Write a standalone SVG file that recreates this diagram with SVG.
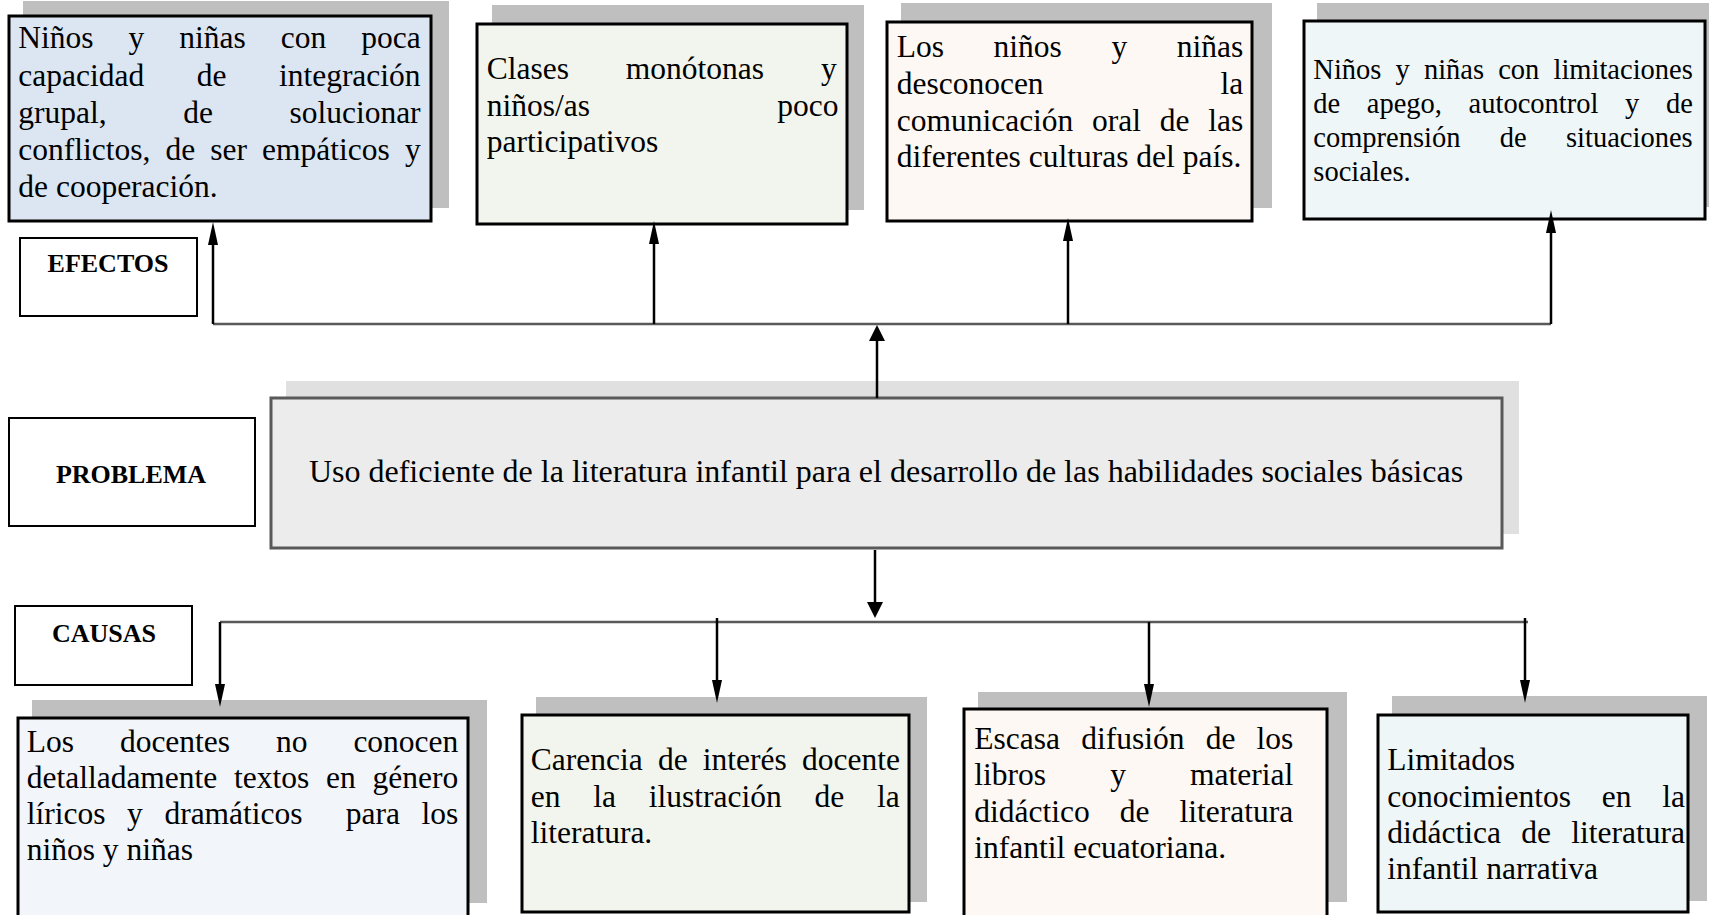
<svg xmlns="http://www.w3.org/2000/svg" width="1709" height="915" viewBox="0 0 1709 915">
<defs>
<style>
.t{font-family:"Liberation Serif","Times New Roman",serif;font-size:31.5px;fill:#000}
.t4{font-family:"Liberation Serif","Times New Roman",serif;font-size:28.5px;fill:#000}
.tp{font-family:"Liberation Serif","Times New Roman",serif;font-size:32px;fill:#000}
.lb{font-family:"Liberation Serif","Times New Roman",serif;font-size:26px;font-weight:bold;fill:#000;text-anchor:middle}
.box{stroke:#000;stroke-width:3}
.sh{fill:#bfbfbf}
.lab{fill:#fff;stroke:#000;stroke-width:2}
.hl{stroke:#595959;stroke-width:2.5;fill:none}
.sh2{stroke:#000;stroke-width:2.5;fill:none}
</style>
<marker id="an" markerUnits="userSpaceOnUse" markerWidth="23" markerHeight="10" refX="13" refY="5" orient="auto"><path d="M0,0 L23,5 L0,10 z" fill="#000"/></marker>
<marker id="aw" markerUnits="userSpaceOnUse" markerWidth="16" markerHeight="16" refX="8" refY="8" orient="auto"><path d="M0,0 L16,8 L0,16 z" fill="#000"/></marker>
</defs>
<rect width="1709" height="915" fill="#fff"/>

<g id="efecto1">
<rect class="sh" x="23" y="1" width="426" height="207"/>
<rect class="box" x="9" y="16" width="422" height="205" fill="#dce6f2"/>
<text class="t" y="48"><tspan x="18.3">Niños</tspan> <tspan x="128.6">y</tspan> <tspan x="179.3">niñas</tspan> <tspan x="280.8">con</tspan> <tspan x="361.3">poca</tspan></text>
<text class="t" y="85.5"><tspan x="18.3">capacidad</tspan> <tspan x="196.7">de</tspan> <tspan x="278.9">integración</tspan></text>
<text class="t" y="122.5"><tspan x="18.3">grupal,</tspan> <tspan x="183.2">de</tspan> <tspan x="289.4">solucionar</tspan></text>
<text class="t" y="159.5"><tspan x="18.3">conflictos,</tspan> <tspan x="165.5">de</tspan> <tspan x="210.3">ser</tspan> <tspan x="262.1">empáticos</tspan> <tspan x="404.9">y</tspan></text>
<text class="t" x="18.3" y="196.5">de cooperación.</text>
</g>

<g id="efecto2">
<rect class="sh" x="492" y="5" width="372" height="205"/>
<rect class="box" x="477" y="24" width="370" height="200" fill="#f2f5ee"/>
<text class="t" y="79"><tspan x="486.7">Clases</tspan> <tspan x="625.8">monótonas</tspan> <tspan x="821">y</tspan></text>
<text class="t" y="115.5"><tspan x="486.7">niños/as</tspan> <tspan x="777.2">poco</tspan></text>
<text class="t" x="486.7" y="152">participativos</text>
</g>

<g id="efecto3">
<rect class="sh" x="901" y="3" width="371" height="205"/>
<rect class="box" x="887" y="22" width="365" height="199" fill="#fdf8f4"/>
<text class="t" y="57.3"><tspan x="896.7">Los</tspan> <tspan x="993.5">niños</tspan> <tspan x="1111.4">y</tspan> <tspan x="1176.7">niñas</tspan></text>
<text class="t" y="94"><tspan x="896.7">desconocen</tspan> <tspan x="1220.6">la</tspan></text>
<text class="t" y="130.7"><tspan x="896.7">comunicación</tspan> <tspan x="1092.1">oral</tspan> <tspan x="1159.8">de</tspan> <tspan x="1208.2">las</tspan></text>
<text class="t" x="896.7" y="167.3">diferentes culturas del país.</text>
</g>

<g id="efecto4">
<rect class="sh" x="1317" y="3" width="392" height="204"/>
<rect class="box" x="1304" y="21" width="401" height="198" fill="#eef6f8"/>
<text class="t4" y="79"><tspan x="1313.3">Niños</tspan> <tspan x="1395.5">y</tspan> <tspan x="1423.9">niñas</tspan> <tspan x="1498.2">con</tspan> <tspan x="1553.5">limitaciones</tspan></text>
<text class="t4" y="113"><tspan x="1313.3">de</tspan> <tspan x="1366.8">apego,</tspan> <tspan x="1468.6">autocontrol</tspan> <tspan x="1625">y</tspan> <tspan x="1665.9">de</tspan></text>
<text class="t4" y="147"><tspan x="1313.3">comprensión</tspan> <tspan x="1499.8">de</tspan> <tspan x="1566">situaciones</tspan></text>
<text class="t4" x="1313.3" y="181">sociales.</text>
</g>

<g id="label-efectos">
<rect class="lab" x="20" y="238" width="177" height="78"/>
<text class="lb" x="108" y="272">EFECTOS</text>
</g>

<g id="label-problema">
<rect class="lab" x="9" y="418" width="246" height="108"/>
<text class="lb" x="131" y="483">PROBLEMA</text>
</g>

<g id="problema">
<rect x="286" y="381" width="1233" height="153" fill="#e0e0e0"/>
<rect x="271" y="398" width="1231" height="150" fill="#ececec" stroke="#595959" stroke-width="3"/>
<text class="tp" x="886" y="482" text-anchor="middle">Uso deficiente de la literatura infantil para el desarrollo de las habilidades sociales básicas</text>
</g>

<g id="label-causas">
<rect class="lab" x="15" y="606" width="177" height="79"/>
<text class="lb" x="104" y="642">CAUSAS</text>
</g>

<g id="causa1">
<rect class="sh" x="32" y="700" width="455" height="203"/>
<rect class="box" x="18" y="718" width="450" height="220" fill="#f2f5fa"/>
<text class="t" y="752"><tspan x="26.7">Los</tspan> <tspan x="119.9">docentes</tspan> <tspan x="276">no</tspan> <tspan x="353.4">conocen</tspan></text>
<text class="t" y="788"><tspan x="26.7">detalladamente</tspan> <tspan x="234.1">textos</tspan> <tspan x="326.1">en</tspan> <tspan x="372.5">género</tspan></text>
<text class="t" y="823.5"><tspan x="26.7">líricos</tspan> <tspan x="127">y</tspan> <tspan x="164.4">dramáticos</tspan> <tspan x="345.8">para</tspan> <tspan x="421.6">los</tspan></text>
<text class="t" x="26.7" y="859.5">niños y niñas</text>
</g>

<g id="causa2">
<rect class="sh" x="536" y="697" width="391" height="205"/>
<rect class="box" x="522" y="715" width="387" height="197" fill="#f2f5ee"/>
<text class="t" y="770"><tspan x="530.7">Carencia</tspan> <tspan x="657.9">de</tspan> <tspan x="702.8">interés</tspan> <tspan x="802">docente</tspan></text>
<text class="t" y="806.5"><tspan x="530.7">en</tspan> <tspan x="593.2">la</tspan> <tspan x="648.7">ilustración</tspan> <tspan x="814.5">de</tspan> <tspan x="877">la</tspan></text>
<text class="t" x="530.7" y="843">literatura.</text>
</g>

<g id="causa3">
<rect class="sh" x="978" y="692" width="369" height="210"/>
<rect class="box" x="964" y="709" width="363" height="220" fill="#fdf8f4"/>
<text class="t" y="748.5"><tspan x="974.3">Escasa</tspan> <tspan x="1081.2">difusión</tspan> <tspan x="1205.7">de</tspan> <tspan x="1256.6">los</tspan></text>
<text class="t" y="785"><tspan x="974.3">libros</tspan> <tspan x="1110.2">y</tspan> <tspan x="1190.1">material</tspan></text>
<text class="t" y="821.5"><tspan x="974.3">didáctico</tspan> <tspan x="1119.8">de</tspan> <tspan x="1179.5">literatura</tspan></text>
<text class="t" x="974.3" y="858">infantil ecuatoriana.</text>
</g>

<g id="causa4">
<rect class="sh" x="1392" y="696" width="315" height="205"/>
<rect class="box" x="1378" y="715" width="310" height="197" fill="#eef6f8"/>
<text class="t" x="1387.3" y="770">Limitados</text>
<text class="t" y="806.5"><tspan x="1387.3">conocimientos</tspan> <tspan x="1601.7">en</tspan> <tspan x="1662.3">la</tspan></text>
<text class="t" y="843"><tspan x="1387.3">didáctica</tspan> <tspan x="1521.3">de</tspan> <tspan x="1571.3">literatura</tspan></text>
<text class="t" x="1387.3" y="879">infantil narrativa</text>
</g>

<g id="connectors">
<line class="hl" x1="213" y1="324" x2="1551" y2="324"/>
<path class="sh2" d="M213,324 V232" marker-end="url(#an)"/>
<path class="sh2" d="M654,324 V231" marker-end="url(#an)"/>
<path class="sh2" d="M1068,324 V228" marker-end="url(#an)"/>
<path class="sh2" d="M1551,324 V220" marker-end="url(#an)"/>
<path class="sh2" d="M877,398 V333" marker-end="url(#aw)"/>
<path class="sh2" d="M875,550 V610" marker-end="url(#aw)"/>
<line class="hl" x1="220" y1="622" x2="1528" y2="622"/>
<path class="sh2" d="M220,622 V697" marker-end="url(#an)"/>
<path class="sh2" d="M717,618 V693" marker-end="url(#an)"/>
<path class="sh2" d="M1149,622 V697" marker-end="url(#an)"/>
<path class="sh2" d="M1525,618 V693" marker-end="url(#an)"/>
</g>
</svg>
